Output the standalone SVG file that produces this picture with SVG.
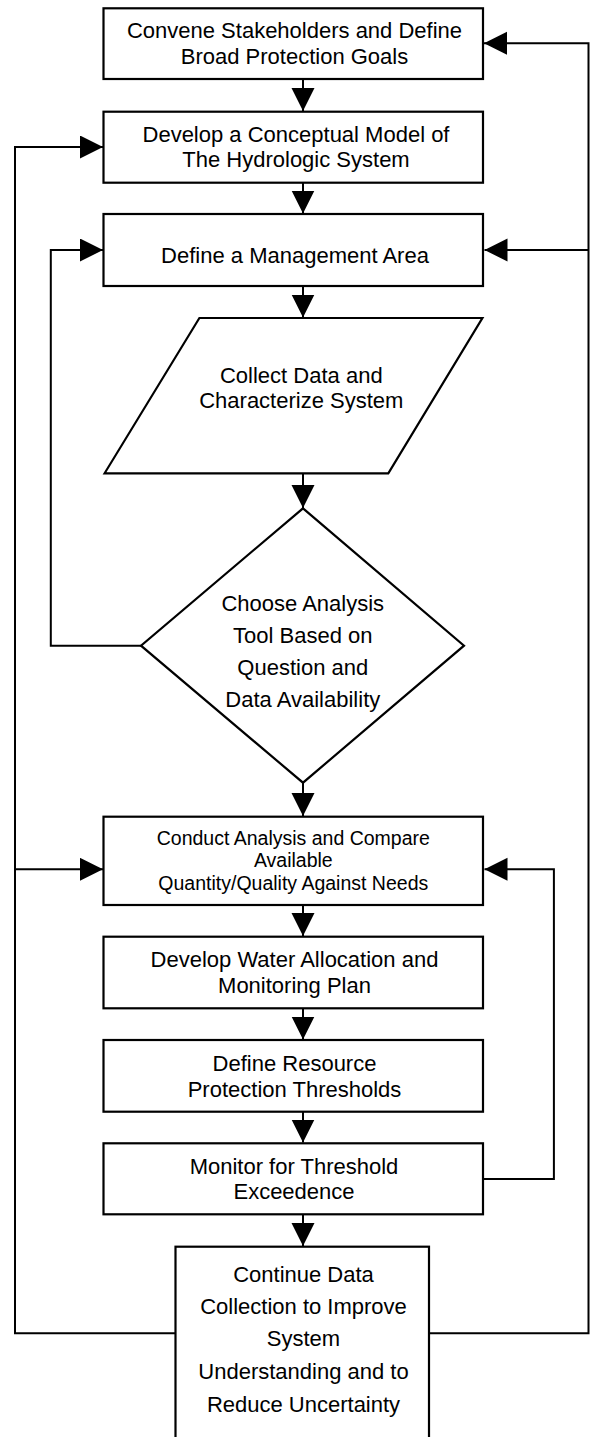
<svg xmlns="http://www.w3.org/2000/svg" width="590" height="1437" viewBox="0 0 590 1437">
<style>
.box{fill:#fff;stroke:#000;stroke-width:2.2}
.ln{fill:none;stroke:#000;stroke-width:2}
.t{font-family:"Liberation Sans",Arial,sans-serif;font-size:22px;fill:#000;text-anchor:middle}
.s{font-size:19.5px}
</style>
<defs>
<marker id="ah" markerUnits="userSpaceOnUse" markerWidth="24" markerHeight="24" refX="23" refY="11.5" orient="auto">
<path d="M0,0 L23,11.5 L0,23 Z" fill="#000"/>
</marker>
</defs>
<rect width="590" height="1437" fill="#fff"/>
<g id="connectors">
<path class="ln" d="M303,79 V111" marker-end="url(#ah)"/>
<path class="ln" d="M303,183 V213.5" marker-end="url(#ah)"/>
<path class="ln" d="M303,286 V317.5" marker-end="url(#ah)"/>
<path class="ln" d="M303,473 V508" marker-end="url(#ah)"/>
<path class="ln" d="M303,783 V816" marker-end="url(#ah)"/>
<path class="ln" d="M303,905 V936" marker-end="url(#ah)"/>
<path class="ln" d="M303,1008 V1039.5" marker-end="url(#ah)"/>
<path class="ln" d="M303,1112 V1142.5" marker-end="url(#ah)"/>
<path class="ln" d="M303,1214 V1246" marker-end="url(#ah)"/>
<path class="ln" d="M141,645.7 H50.8 V250 H103" marker-end="url(#ah)"/>
<path class="ln" d="M483.5,1179 H553.9 V869.3 H484.5" marker-end="url(#ah)"/>
<path class="ln" d="M175.7,1333.3 H15 V147 H103" marker-end="url(#ah)"/>
<path class="ln" d="M15,869.3 H103" marker-end="url(#ah)"/>
<path class="ln" d="M429.3,1333.3 H588.5 V43.3 H484" marker-end="url(#ah)"/>
<path class="ln" d="M588.5,250 H484.5" marker-end="url(#ah)"/>
</g>
<g id="n1">
<rect class="box" x="103.5" y="8.3" width="379.5" height="70.7"/>
<text class="t" x="294.5" y="38.3">Convene Stakeholders and Define</text>
<text class="t" x="294.5" y="64">Broad Protection Goals</text>
</g>
<g id="n2">
<rect class="box" x="103.5" y="111.7" width="379.5" height="71"/>
<text class="t" x="296" y="141.7">Develop a Conceptual Model of</text>
<text class="t" x="296" y="166.7">The Hydrologic System</text>
</g>
<g id="n3">
<rect class="box" x="103.5" y="214" width="379.5" height="72"/>
<text class="t" x="295" y="262.7">Define a Management Area</text>
</g>
<g id="n4">
<polygon class="box" points="199.4,318 482.4,318 388.3,473.3 104.6,473.3"/>
<text class="t" x="301.3" y="382.7">Collect Data and</text>
<text class="t" x="301.3" y="408.3">Characterize System</text>
</g>
<g id="n5">
<polygon class="box" points="303,508.3 464,645.7 303,782.7 141,645.7"/>
<text class="t" x="302.8" y="611">Choose Analysis</text>
<text class="t" x="302.8" y="643">Tool Based on</text>
<text class="t" x="302.8" y="675">Question and</text>
<text class="t" x="302.8" y="707">Data Availability</text>
</g>
<g id="n6">
<rect class="box" x="103.5" y="816.7" width="379.5" height="88.3"/>
<text class="t s" x="293.3" y="845">Conduct Analysis and Compare</text>
<text class="t s" x="293.3" y="867">Available</text>
<text class="t s" x="293.3" y="889.5">Quantity/Quality Against Needs</text>
</g>
<g id="n7">
<rect class="box" x="103.5" y="936.7" width="379.5" height="71.6"/>
<text class="t" x="294.5" y="966.7">Develop Water Allocation and</text>
<text class="t" x="294.5" y="992.7">Monitoring Plan</text>
</g>
<g id="n8">
<rect class="box" x="103.5" y="1040" width="379.5" height="71.7"/>
<text class="t" x="294.5" y="1071">Define Resource</text>
<text class="t" x="294.5" y="1096.5">Protection Thresholds</text>
</g>
<g id="n9">
<rect class="box" x="103.5" y="1143.3" width="379.5" height="71"/>
<text class="t" x="294" y="1174.3">Monitor for Threshold</text>
<text class="t" x="294" y="1199.3">Exceedence</text>
</g>
<g id="n10">
<rect class="box" x="175.5" y="1246.7" width="253.5" height="200"/>
<text class="t" x="303.5" y="1281.7">Continue Data</text>
<text class="t" x="303.5" y="1314">Collection to Improve</text>
<text class="t" x="303.5" y="1346">System</text>
<text class="t" x="303.5" y="1379">Understanding and to</text>
<text class="t" x="303.5" y="1411.7">Reduce Uncertainty</text>
</g>
</svg>
